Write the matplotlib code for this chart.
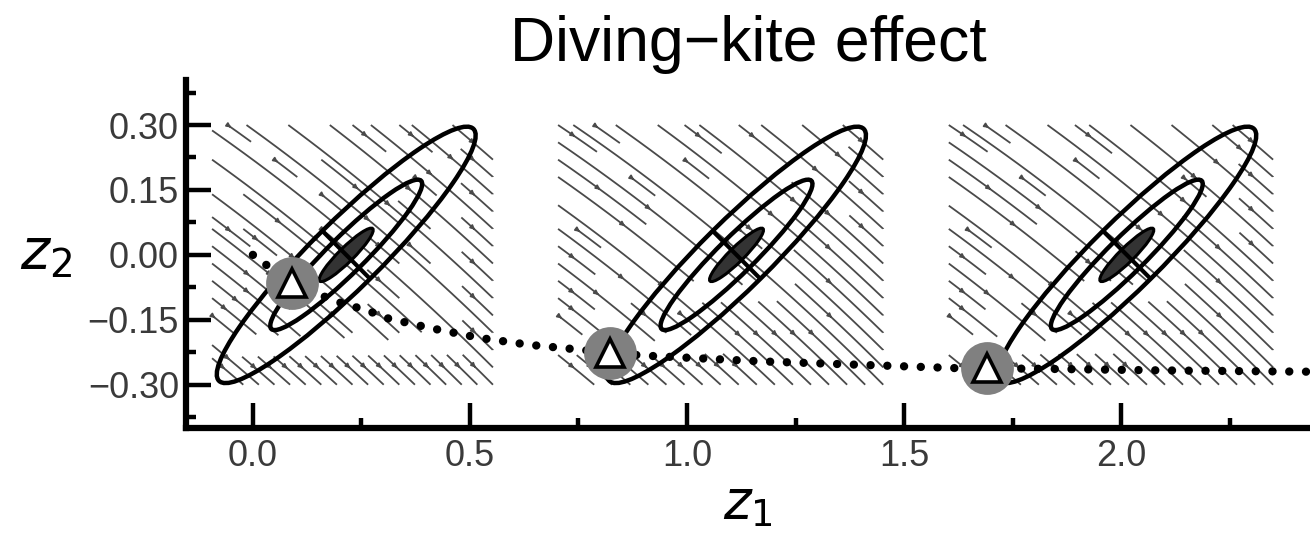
import numpy as np
import matplotlib
matplotlib.use('Agg')
import matplotlib.pyplot as plt
from matplotlib.patches import Ellipse

plt.rcParams['font.family'] = ['Liberation Sans', 'DejaVu Sans']

# ---------------- data ----------------
title = "Diving\u2212kite effect"
x_ticks = [0.0, 0.5, 1.0, 1.5, 2.0]
x_tick_labels = ["0.0", "0.5", "1.0", "1.5", "2.0"]
x_minor_ticks = [0.25, 0.75, 1.25, 1.75, 2.25]
y_ticks = [-0.30, -0.15, 0.0, 0.15, 0.30]
y_tick_labels = ["\u22120.30", "\u22120.15", "0.00", "0.15", "0.30"]
y_minor_ticks = [-0.375, -0.225, -0.075, 0.075, 0.225, 0.375]

panel_centers_x = [0.215, 1.114, 2.013]
panel_center_y = 0.0
field_x_left = [-0.094, 0.703, 1.603]
field_x_right = [0.553, 1.452, 2.350]
field_y_range = [-0.30, 0.30]
field_slope_mid = 0.85      # |dy/dx| of the stream lines at panel centre
field_slope_change = 0.25   # change of slope across the panel

ellipse_angle = 44.8
outer_semi = [0.413, 0.078]
middle_semi = [0.243, 0.042]
inner_semi = [0.086, 0.017]

marker_x = [0.089, 0.823, 1.690]
marker_y = [-0.065, -0.227, -0.262]

path_x = [0.0, 0.04, 0.089, 0.154, 0.193, 0.231, 0.27, 0.308, 0.408, 0.523,
          0.638, 0.753, 0.823, 0.907, 1.168, 1.399, 1.629, 1.798, 2.10, 2.44]
path_y = [0.0, -0.03, -0.065, -0.092, -0.108, -0.119, -0.131, -0.146, -0.169, -0.192,
          -0.208, -0.219, -0.227, -0.233, -0.246, -0.254, -0.262, -0.263, -0.267, -0.270]

# ---------------- figure ----------------
fig = plt.figure(figsize=(13.1, 5.37), dpi=100)
ax = fig.add_axes([0.142, 0.203, 0.858, 0.648])
ax.set_xlim(-0.154, 2.435)
ax.set_ylim(-0.40, 0.404)

# stream fields
for cx, xl, xr in zip(panel_centers_x, field_x_left, field_x_right):
    gx = np.linspace(xl, xr, 50)
    gy = np.linspace(field_y_range[0], field_y_range[1], 50)
    X, Y = np.meshgrid(gx, gy)
    U = np.ones_like(X)
    V = -(field_slope_mid + field_slope_change * ((X - cx) - (Y - panel_center_y)))
    ax.streamplot(X, Y, U, V, density=(0.65, 0.55), color='#4a4a4a', linewidth=1.3,
                  arrowsize=0.6, arrowstyle='-|>', zorder=1)

# ellipses
th = np.deg2rad(ellipse_angle + 90)
for cx in panel_centers_x:
    for semi, fc, lw in [(outer_semi, 'none', 3.2), (middle_semi, 'none', 3.2),
                         (inner_semi, '#333333', 2.2)]:
        e = Ellipse((cx, panel_center_y), 2 * semi[0], 2 * semi[1], angle=ellipse_angle,
                    facecolor=fc, edgecolor='black', lw=lw, zorder=3)
        ax.add_patch(e)
    dx = outer_semi[1] * np.cos(th)
    dy = outer_semi[1] * np.sin(th)
    ax.plot([cx - dx, cx + dx], [panel_center_y - dy, panel_center_y + dy],
            color='black', lw=3.0, zorder=3, solid_capstyle='butt')

# dotted trajectory
ax.plot(path_x, path_y, color='black', lw=6, linestyle=(0, (0.01, 2.0)),
        dash_capstyle='round', zorder=4)

# markers
ax.plot(marker_x, marker_y, 'o', ms=38, color='#808080', mec='none', zorder=5)
ax.plot(marker_x, marker_y, '^', ms=20, mfc='white', mec='black', mew=2.6, zorder=6)

# axes styling
for s in ['top', 'right']:
    ax.spines[s].set_visible(False)
for s in ['left', 'bottom']:
    ax.spines[s].set_linewidth(4.5)
ax.set_xticks(x_ticks)
ax.set_xticklabels(x_tick_labels)
ax.set_xticks(x_minor_ticks, minor=True)
ax.set_yticks(y_ticks)
ax.set_yticklabels(y_tick_labels)
ax.set_yticks(y_minor_ticks, minor=True)
ax.tick_params(which='major', direction='in', length=18, width=3.2, labelsize=26,
               labelcolor='#3a3a3a', pad=5)
ax.tick_params(which='minor', direction='in', length=7, width=3.2)
ax.tick_params(axis='x', which='major', pad=8)

ax.set_title(title, fontsize=45, pad=14)
ax.set_xlabel(r'$z_1$', fontsize=38, labelpad=4)
ax.set_ylabel(r'$z_2$', fontsize=40, rotation=0, labelpad=30, va='center')

fig.savefig('out.png', dpi=100)
